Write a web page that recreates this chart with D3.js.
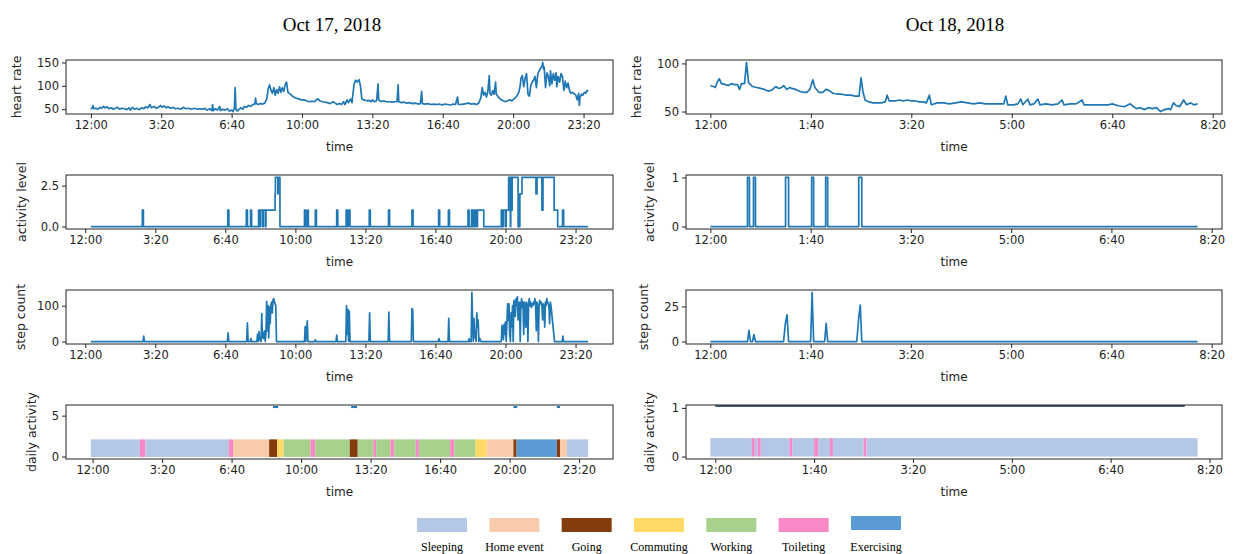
<!DOCTYPE html>
<html>
<head>
<meta charset="utf-8">
<script src="https://cdn.jsdelivr.net/npm/d3@7"></script>
<style>
  body { margin: 0; background: #fff; }
  svg text { font-family: 'DejaVu Sans', sans-serif; fill: #222; }
  .title, .legend text { font-family: 'Liberation Serif', 'Times New Roman', serif; }
</style>
</head>
<body>
<svg id="chart" width="1233" height="554"></svg>
<script>
// ---- data (minutes after 12:00 midnight) ----
const dayTitles = ['Oct 17, 2018', 'Oct 18, 2018'];

const xTicksLeft = [0, 200, 400, 600, 800, 1000, 1200, 1400];
const xLabelsLeft = ['12:00', '3:20', '6:40', '10:00', '13:20', '16:40', '20:00', '23:20'];
const xTicksRight = [0, 100, 200, 300, 400, 500];
const xLabelsRight = ['12:00', '1:40', '3:20', '5:00', '6:40', '8:20'];

const heartLeft = [[0,50],[4,53],[6,58],[8,51],[14,52],[20,50],[26,54],[30,52],[36,56],[40,53],[46,55],[52,51],[58,53],[64,50],[70,52],[76,54],[82,50],[88,52],[96,51],[102,49],[108,53],[112,48],[118,54],[124,50],[130,52],[138,49],[144,53],[150,51],[156,55],[162,53],[168,60],[172,53],[180,56],[186,52],[192,54],[198,58],[202,54],[208,57],[214,53],[220,55],[226,52],[234,54],[240,51],[248,52],[256,50],[262,54],[270,51],[278,52],[286,50],[294,52],[302,50],[310,51],[318,50],[324,52],[330,48],[338,51],[344,47],[346,60],[348,47],[354,51],[360,48],[366,56],[368,47],[374,50],[380,48],[388,51],[394,46],[400,48],[404,45],[408,52],[410,96],[412,50],[416,46],[420,49],[426,53],[432,50],[436,56],[442,54],[448,58],[454,56],[460,60],[466,61],[468,74],[470,62],[476,60],[482,62],[488,61],[494,63],[500,72],[504,94],[508,102],[512,90],[516,84],[520,96],[524,80],[528,92],[532,84],[536,98],[540,86],[544,96],[548,88],[552,102],[556,108],[560,86],[564,84],[570,80],[576,76],[582,74],[590,72],[598,70],[606,70],[612,68],[620,66],[628,67],[636,66],[640,70],[646,72],[650,68],[658,66],[664,65],[672,64],[680,62],[688,66],[694,63],[700,60],[706,62],[712,60],[718,66],[722,60],[728,70],[732,64],[738,72],[742,64],[748,104],[752,112],[756,108],[762,113],[766,100],[770,72],[776,70],[784,68],[790,69],[796,66],[800,70],[806,66],[812,68],[816,104],[818,70],[824,66],[832,68],[840,66],[848,66],[856,65],[862,66],[870,66],[873,102],[875,66],[882,64],[890,65],[898,63],[906,64],[914,62],[922,63],[930,61],[936,62],[940,88],[942,62],[950,61],[958,62],[966,60],[974,61],[982,60],[990,61],[998,59],[1006,61],[1014,60],[1022,59],[1030,61],[1036,60],[1042,76],[1044,61],[1050,60],[1058,61],[1066,62],[1074,63],[1080,61],[1088,62],[1096,60],[1102,63],[1108,74],[1112,96],[1116,80],[1120,86],[1124,76],[1128,88],[1132,122],[1134,84],[1138,80],[1142,90],[1146,82],[1150,108],[1152,82],[1156,78],[1160,74],[1166,70],[1172,68],[1178,66],[1184,68],[1190,70],[1196,68],[1202,72],[1208,76],[1212,80],[1216,86],[1220,100],[1222,116],[1226,122],[1230,98],[1234,116],[1238,126],[1242,82],[1246,78],[1250,100],[1254,108],[1258,112],[1262,120],[1266,96],[1270,126],[1274,132],[1278,138],[1282,142],[1284,150],[1286,136],[1288,140],[1290,118],[1292,96],[1296,128],[1300,120],[1304,100],[1306,132],[1310,104],[1314,126],[1318,112],[1322,128],[1324,98],[1328,120],[1332,108],[1336,126],[1340,120],[1344,90],[1348,110],[1352,96],[1356,106],[1360,90],[1364,84],[1368,86],[1372,84],[1378,80],[1382,70],[1386,84],[1388,58],[1390,76],[1394,82],[1398,80],[1402,86],[1406,84],[1410,90],[1413,88]];

const heartRight = [[0,77],[3,76],[5,75],[7,81],[9,84],[11,79],[15,78],[18,77],[21,79],[24,78],[27,78],[29,73],[31,79],[34,79],[36,101],[38,80],[42,76],[46,75],[50,74],[54,73],[58,71],[62,73],[65,76],[68,74],[71,75],[73,77],[76,73],[79,75],[81,74],[85,73],[89,71],[93,70],[96,70],[99,73],[102,83],[104,75],[108,70],[112,70],[115,73],[118,72],[122,69],[127,68],[131,68],[135,67],[140,67],[144,66],[148,66],[150,85],[152,70],[154,62],[158,60],[162,59],[166,59],[170,59],[174,60],[176,67],[178,61],[184,61],[188,62],[192,61],[196,62],[200,61],[204,61],[208,60],[212,60],[215,59],[218,67],[220,57],[226,59],[232,59],[238,58],[244,59],[250,60],[256,59],[262,58],[268,59],[274,58],[280,58],[286,58],[292,58],[294,66],[296,57],[302,57],[306,58],[309,63],[311,57],[316,63],[318,57],[322,58],[326,63],[328,57],[334,58],[340,57],[346,58],[350,62],[352,57],[358,58],[364,58],[370,62],[372,57],[378,57],[384,57],[390,57],[396,57],[400,58],[406,56],[412,55],[418,58],[420,56],[424,53],[428,54],[432,52],[436,54],[440,53],[444,54],[448,50],[452,52],[456,53],[458,52],[461,59],[464,56],[467,55],[471,62],[474,57],[478,59],[481,57],[485,58]];

const levelLeft = [[16,0],[163,1],[166,0],[407,1],[410,0],[460,1],[463,0],[472,1],[475,0],[495,1],[498,0],[500,1],[506,0],[508,1],[513,1],[514,0],[516,1],[540,1],[542,2],[543,3],[550,2],[551,3],[556,0],[626,1],[629,0],[634,1],[637,0],[657,1],[660,0],[718,1],[721,0],[745,1],[748,0],[751,1],[756,0],[811,1],[814,0],[866,1],[869,0],[933,1],[936,0],[1009,1],[1012,0],[1037,1],[1040,0],[1093,1],[1096,0],[1103,1],[1106,0],[1108,1],[1112,0],[1114,1],[1118,0],[1120,1],[1137,1],[1138,0],[1188,1],[1192,0],[1194,1],[1200,0],[1202,1],[1209,3],[1214,0],[1215,3],[1218,1],[1219,3],[1236,0],[1241,2],[1247,3],[1287,2],[1290,3],[1304,1],[1307,3],[1339,1],[1349,0],[1363,1],[1366,0],[1436,0]];

const levelRight = [[0,0],[37,1],[39,0],[43,1],[45,0],[75,1],[78,0],[101,1],[103,0],[115,1],[117,0],[148,1],[151,0],[486,0]];

const stepsLeft = [[16,0],[165,0],[167,15],[169,0],[406,0],[408,24],[410,0],[461,0],[463,52],[465,0],[471,0],[473,8],[475,0],[490,0],[492,20],[494,0],[496,28],[498,6],[502,0],[504,78],[506,10],[508,25],[510,8],[512,30],[514,0],[516,24],[518,112],[520,30],[522,100],[524,10],[526,96],[528,50],[530,100],[532,110],[534,80],[536,115],[538,120],[541,108],[544,100],[546,0],[626,0],[628,42],[630,0],[632,30],[634,58],[636,0],[655,0],[657,5],[659,0],[716,0],[718,18],[720,0],[744,0],[746,100],[748,20],[750,90],[752,0],[754,85],[756,0],[810,0],[812,80],[814,0],[865,0],[867,82],[869,0],[931,0],[933,92],[935,90],[937,0],[1008,0],[1010,8],[1012,0],[1036,0],[1038,65],[1040,0],[1094,0],[1096,8],[1098,0],[1102,0],[1104,137],[1106,60],[1108,0],[1110,65],[1112,10],[1114,30],[1116,0],[1118,80],[1120,40],[1122,60],[1124,0],[1126,10],[1130,0],[1188,0],[1190,45],[1192,35],[1194,5],[1196,48],[1198,20],[1200,55],[1202,0],[1204,50],[1206,105],[1208,60],[1210,105],[1212,20],[1214,0],[1216,80],[1218,40],[1220,100],[1222,0],[1224,115],[1226,105],[1228,70],[1230,120],[1232,100],[1234,125],[1236,60],[1238,100],[1240,110],[1242,0],[1244,100],[1246,120],[1248,95],[1250,110],[1252,20],[1254,110],[1256,100],[1258,40],[1260,110],[1262,100],[1264,0],[1266,105],[1268,120],[1270,100],[1272,110],[1274,95],[1276,105],[1278,100],[1280,110],[1282,105],[1284,120],[1286,100],[1288,30],[1290,110],[1292,100],[1294,0],[1296,100],[1298,115],[1300,105],[1302,110],[1304,100],[1306,60],[1308,105],[1310,100],[1312,40],[1314,110],[1316,100],[1318,120],[1320,110],[1322,105],[1324,100],[1326,50],[1328,110],[1330,100],[1332,80],[1334,60],[1336,40],[1338,20],[1340,0],[1362,0],[1364,15],[1366,0],[1436,0]];

const stepsRight = [[0,0],[37,0],[38.5,8],[40,0],[42,0],[43.5,5],[45,0],[73,0],[75,14],[76.5,19],[78,0],[100,0],[101.5,35],[103,0],[114,0],[115.5,13],[117,0],[146,0],[148,17],[149.5,26],[151,0],[486,0]];

const activityNames = ['Sleeping', 'Home event', 'Going', 'Commuting', 'Working', 'Toileting', 'Exercising'];
const activityColors = ['#b4c7e7', '#f8cbad', '#843c0c', '#ffd966', '#a9d18e', '#f888c6', '#5b9bd5'];

// [start, end, activity]
const dailyLeft = [[-5,136,'Sleeping'],[136,152,'Toileting'],[152,392,'Sleeping'],[392,404,'Toileting'],[404,508,'Home event'],[508,531,'Going'],[531,550,'Commuting'],[550,627,'Working'],[627,641,'Toileting'],[641,740,'Working'],[740,763,'Going'],[763,808,'Working'],[808,816,'Toileting'],[816,857,'Working'],[857,868,'Toileting'],[868,930,'Working'],[930,939,'Toileting'],[939,1029,'Working'],[1029,1041,'Toileting'],[1041,1101,'Working'],[1101,1134,'Commuting'],[1134,1211,'Home event'],[1211,1220,'Going'],[1220,1336,'Exercising'],[1336,1345,'Going'],[1345,1365,'Home event'],[1365,1426,'Sleeping']];
const dailyRight = [[-5,37,'Sleeping'],[37,40,'Toileting'],[40,43,'Sleeping'],[43,46,'Toileting'],[46,75,'Sleeping'],[75,78,'Toileting'],[78,100,'Sleeping'],[100,104,'Toileting'],[104,116,'Sleeping'],[116,119,'Toileting'],[119,150,'Sleeping'],[150,153,'Toileting'],[153,488,'Sleeping']];

// short pieces of the activity-code line that show at the top of the panel
const dailyLineLeft = [[[519,6.05],[534,6.05]],[[744,6.05],[761,6.05]],[[1211,6.05],[1222,6.05]],[[1336,6.05],[1345,6.05]]];
const dailyLineRight = [[[0,1.04],[475,1.04]]];

// ---- layout ----
const svg = d3.select('#chart');
const cols = [{x0: 66, x1: 613, cx: 332}, {x0: 686, x1: 1222, cx: 955}];
const rowTop = [60, 175, 290, 405];
const rowH = 54;
const lineColor = '#1f77b4';

const panels = [
  // left column
  {col: 0, row: 0, label: 'heart rate', kind: 'line', data: heartLeft, yTicks: [50, 100, 150], yFmt: d3.format('d'), ylx: 17},
  {col: 0, row: 1, label: 'activity level', kind: 'step', data: levelLeft, yTicks: [0, 2.5], yFmt: d3.format('.1f'), ylx: 22},
  {col: 0, row: 2, label: 'step count', kind: 'line', data: stepsLeft, yTicks: [0, 100], yFmt: d3.format('d'), ylx: 21},
  {col: 0, row: 3, label: 'daily activity', kind: 'daily', data: dailyLeft, lines: dailyLineLeft, yDomain: [-0.3, 6.3], band: [-0.05, 2.1], yTicks: [0, 5], yFmt: d3.format('d'), ylx: 32},
  // right column
  {col: 1, row: 0, label: 'heart rate', kind: 'line', data: heartRight, yTicks: [50, 100], yFmt: d3.format('d'), ylx: 637},
  {col: 1, row: 1, label: 'activity level', kind: 'step', data: levelRight, yTicks: [0, 1], yFmt: d3.format('d'), ylx: 650},
  {col: 1, row: 2, label: 'step count', kind: 'line', data: stepsRight, yTicks: [0, 25], yFmt: d3.format('d'), ylx: 644},
  {col: 1, row: 3, label: 'daily activity', kind: 'daily', data: dailyRight, lines: dailyLineRight, yDomain: [-0.05, 1.06], band: [0, 0.38], yTicks: [0, 1], yFmt: d3.format('d'), ylx: 650}
];

// matplotlib-like 5% margins
function padded(ext) {
  const m = (ext[1] - ext[0]) * 0.05;
  return [ext[0] - m, ext[1] + m];
}

dayTitles.forEach((t, i) => {
  svg.append('text')
    .attr('class', 'title')
    .attr('x', cols[i].cx)
    .attr('y', 31)
    .attr('text-anchor', 'middle')
    .style('font-size', '19px')
    .style('fill', '#000')
    .text(t);
});

panels.forEach(p => {
  const c = cols[p.col];
  const top = rowTop[p.row];
  const g = svg.append('g');

  let xExt, yDom;
  if (p.kind === 'daily') {
    xExt = [d3.min(p.data, d => d[0]), d3.max(p.data, d => d[1])];
    yDom = p.yDomain;
  } else {
    xExt = d3.extent(p.data, d => d[0]);
    yDom = padded(d3.extent(p.data, d => d[1]));
  }

  const x = d3.scaleLinear().domain(padded(xExt)).range([c.x0, c.x1]);
  const y = d3.scaleLinear().domain(yDom).range([top + rowH, top]);

  const clipId = 'clip' + p.col + p.row;
  g.append('clipPath').attr('id', clipId)
    .append('rect').attr('x', c.x0).attr('y', top).attr('width', c.x1 - c.x0).attr('height', rowH);
  const plot = g.append('g').attr('clip-path', 'url(#' + clipId + ')');

  if (p.kind === 'daily') {
    plot.selectAll('rect')
      .data(p.data)
      .enter()
      .append('rect')
      .attr('x', d => x(d[0]))
      .attr('width', d => x(d[1]) - x(d[0]))
      .attr('y', y(p.band[1]))
      .attr('height', y(p.band[0]) - y(p.band[1]))
      .attr('fill', d => activityColors[activityNames.indexOf(d[2])]);
    const ln = d3.line().x(d => x(d[0])).y(d => y(d[1]));
    p.lines.forEach(seg => {
      plot.append('path')
        .attr('d', ln(seg))
        .attr('fill', 'none')
        .attr('stroke', p.col === 0 ? lineColor : '#44617c')
        .attr('stroke-width', 2);
    });
  } else {
    const ln = d3.line()
      .x(d => x(d[0]))
      .y(d => y(d[1]))
      .curve(p.kind === 'step' ? d3.curveStepAfter : d3.curveLinear);
    plot.append('path')
      .datum(p.data)
      .attr('d', ln)
      .attr('fill', 'none')
      .attr('stroke', lineColor)
      .attr('stroke-width', 1.7)
      .attr('stroke-linejoin', 'round');
  }

  // frame
  g.append('rect')
    .attr('x', c.x0).attr('y', top)
    .attr('width', c.x1 - c.x0).attr('height', rowH)
    .attr('fill', 'none').attr('stroke', '#222').attr('stroke-width', 1);

  const xTicks = p.col === 0 ? xTicksLeft : xTicksRight;
  const xLabels = p.col === 0 ? xLabelsLeft : xLabelsRight;
  const xAxis = g.append('g')
    .attr('transform', 'translate(0,' + (top + rowH) + ')')
    .call(d3.axisBottom(x).tickValues(xTicks).tickFormat((d, i) => xLabels[i]).tickSize(4).tickPadding(3));
  const yAxis = g.append('g')
    .attr('transform', 'translate(' + c.x0 + ',0)')
    .call(d3.axisLeft(y).tickValues(p.yTicks).tickFormat(p.yFmt).tickSize(4).tickPadding(3));
  [xAxis, yAxis].forEach(a => {
    a.select('.domain').remove();
    a.selectAll('line').attr('stroke', '#222');
    a.selectAll('text').style('font-size', '11.5px').style('font-family', "'DejaVu Sans', sans-serif").attr('fill', '#222');
  });

  g.append('text')
    .attr('x', (c.x0 + c.x1) / 2)
    .attr('y', top + rowH + 37)
    .attr('text-anchor', 'middle')
    .style('font-size', '12px')
    .text('time');

  g.append('text')
    .attr('transform', 'translate(' + p.ylx + ',' + (top + rowH / 2) + ') rotate(-90)')
    .attr('text-anchor', 'middle')
    .attr('dy', '0.35em')
    .style('font-size', '12.5px')
    .text(p.label);
});

// legend
const legend = svg.append('g').attr('class', 'legend');
const legendX = d3.scalePoint().domain(activityNames).range([442, 876]);
legend.selectAll('rect')
  .data(activityNames)
  .enter()
  .append('rect')
  .attr('x', d => legendX(d) - 25)
  .attr('y', d => d === 'Exercising' ? 516 : 518)
  .attr('width', 50)
  .attr('height', 14)
  .attr('fill', (d, i) => activityColors[i]);
legend.selectAll('text')
  .data(activityNames)
  .enter()
  .append('text')
  .attr('x', d => legendX(d))
  .attr('y', 551)
  .attr('text-anchor', 'middle')
  .style('font-size', '12px')
  .style('fill', '#000')
  .text(d => d);
</script>
</body>
</html>
